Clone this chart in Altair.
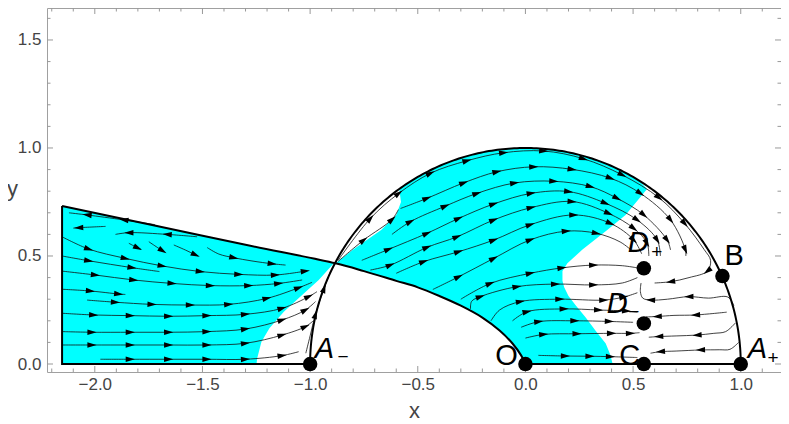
import math
import numpy as np
import pandas as pd
import altair as alt

FONT = "Liberation Sans"
CYAN = "#00FFFF"

# ---------------- axes / frame ----------------
XMIN, XMAX = -2.222, 1.187
YMIN, YMAX = -0.037, 1.648
W, H = 734, 364
XTICKS = [-2.0, -1.5, -1.0, -0.5, 0.0, 0.5, 1.0]
YTICKS = [0.0, 0.5, 1.0, 1.5]

# ---------------- cyan regions ----------------
# left region: x, lower y, upper y
R1_X = [-2.152, -1.249, -1.246, -1.226, -1.189, -1.122, -1.037, -0.960, -0.890]
R1_LO = [0.0, 0.0, 0.026, 0.103, 0.165, 0.242, 0.319, 0.389, 0.466]
R1_HI = [0.731, 0.541, 0.540, 0.536, 0.528, 0.514, 0.497, 0.481, 0.466]

# semicircle region: y, left x, right x
R2_Y = [0.0, 0.04, 0.095, 0.155, 0.215, 0.27, 0.315, 0.355, 0.385, 0.43, 0.466,
        0.53, 0.62, 0.69, 0.75, 0.81, 0.85, 0.88, 0.91, 0.94, 0.96, 0.975, 0.985,
        0.993, 0.998, 1.0]
R2_XL = [0.0, -0.02, -0.06, -0.12, -0.2, -0.3, -0.4, -0.5, -0.6, -0.75, -0.882,
         -0.80, -0.67, -0.60, -0.578, -0.586, -0.527, -0.475, -0.415, -0.341,
         -0.28, -0.222, -0.173, -0.118, -0.063, 0.0]
R2_XR = [0.405, 0.395, 0.373, 0.325, 0.28, 0.235, 0.20, 0.18, 0.172, 0.172, 0.195,
         0.265, 0.38, 0.465, 0.515, 0.565, 0.527, 0.475, 0.415, 0.341,
         0.28, 0.222, 0.173, 0.118, 0.063, 0.0]

# ---------------- black boundaries ----------------
EDGE_LEFT = [(-1.0, 0.0), (-2.152, 0.0), (-2.152, 0.731)]
EDGE_RIGHT = [(0.0, 0.0), (1.0, 0.0)]
SEPARATRIX = [(-2.152, 0.731), (-1.75, 0.647), (-1.3, 0.552), (-0.882, 0.466),
              (-0.75, 0.43), (-0.6, 0.385), (-0.5, 0.355), (-0.4, 0.315),
              (-0.3, 0.27), (-0.2, 0.215), (-0.12, 0.155), (-0.06, 0.095),
              (-0.02, 0.04), (0.0, 0.0)]

# ---------------- fixed points ----------------
PT_NAMES = ["A-", "O", "C", "A+", "B", "D+", "D-"]
PT_X = [-1.0, 0.0, 0.55, 1.0, 0.915, 0.55, 0.55]
PT_Y = [0.0, 0.0, 0.0, 0.0, 0.407, 0.443, 0.188]

# ---------------- streamlines (x, y, arrowhead flag) ----------------
T1 = [(-1.72, 0.645, 0), (-1.865, 0.667, 1), (-2.036, 0.69, 1), (-2.12, 0.70, 0)]
T2 = [(-1.95, 0.637, 0), (-2.075, 0.631, 1), (-2.10, 0.629, 0)]
T3 = [(-1.525, 0.589, 0), (-1.664, 0.600, 1), (-1.842, 0.608, 1), (-1.904, 0.600, 0)]
S1 = [(-1.842, 0.559, 0), (-1.80, 0.537, 1), (-1.786, 0.531, 0)]
S2 = [(-1.749, 0.566, 0), (-1.71, 0.540, 0), (-1.685, 0.524, 1), (-1.678, 0.520, 0)]
S3 = [(-1.633, 0.551, 0), (-1.58, 0.528, 0), (-1.532, 0.505, 1), (-1.52, 0.500, 0)]
S4 = [(-1.478, 0.539, 0), (-1.424, 0.509, 0), (-1.354, 0.492, 1), (-1.27, 0.477, 0),
      (-1.176, 0.464, 1), (-1.114, 0.458, 0)]
L1 = [(-2.152, 0.589, 0), (-2.028, 0.532, 1), (-1.858, 0.489, 1), (-1.687, 0.454, 1),
      (-1.510, 0.428, 1), (-1.331, 0.415, 1), (-1.161, 0.412, 1), (-1.022, 0.430, 1)]
L2 = [(-2.152, 0.500, 0), (-2.028, 0.478, 1), (-1.827, 0.446, 1), (-1.70, 0.428, 0)]
L3 = [(-2.152, 0.430, 0), (-1.997, 0.412, 1), (-1.819, 0.389, 1), (-1.641, 0.373, 1),
      (-1.463, 0.363, 1), (-1.285, 0.363, 1), (-1.146, 0.373, 1), (-1.037, 0.389, 0)]
L4 = [(-2.152, 0.346, 0), (-2.020, 0.338, 1), (-1.889, 0.324, 1), (-1.858, 0.322, 0)]
L5 = [(-2.036, 0.296, 0), (-1.904, 0.286, 1), (-1.734, 0.276, 1), (-1.556, 0.273, 1),
      (-1.378, 0.276, 1), (-1.200, 0.304, 1), (-1.053, 0.353, 1), (-0.991, 0.378, 0)]
L6 = [(-2.152, 0.235, 0), (-2.005, 0.227, 1), (-1.835, 0.224, 1), (-1.657, 0.221, 1),
      (-1.479, 0.224, 1), (-1.300, 0.230, 1), (-1.130, 0.258, 1), (-1.006, 0.312, 1),
      (-0.968, 0.335, 0)]
L7 = [(-2.152, 0.150, 0), (-2.013, 0.147, 1), (-1.835, 0.147, 1), (-1.657, 0.147, 1),
      (-1.479, 0.150, 1), (-1.300, 0.162, 1), (-1.130, 0.204, 1), (-1.022, 0.250, 1),
      (-0.975, 0.289, 0)]
L8 = [(-2.152, 0.088, 0), (-2.013, 0.088, 1), (-1.835, 0.088, 1), (-1.657, 0.088, 1),
      (-1.479, 0.088, 1), (-1.300, 0.096, 1), (-1.130, 0.134, 1), (-1.022, 0.173, 1),
      (-0.985, 0.20, 0)]
L9 = [(-1.974, 0.022, 0), (-1.835, 0.022, 1), (-1.657, 0.022, 1), (-1.479, 0.022, 1),
      (-1.300, 0.022, 1), (-1.130, 0.039, 1), (-1.053, 0.057, 0)]
W1 = [(-1.02, 0.05, 0), (-1.0, 0.13, 0), (-0.975, 0.23, 1), (-0.935, 0.35, 1), (-0.905, 0.43, 0)]

HUG = [(-0.87, 0.48, 0), (-0.72, 0.674, 1), (-0.588, 0.79, 1), (-0.441, 0.883, 1),
       (-0.271, 0.941, 1), (-0.101, 0.978, 1), (0.085, 0.986, 1), (0.27, 0.95, 1),
       (0.45, 0.875, 1), (0.62, 0.77, 1), (0.74, 0.65, 1), (0.83, 0.53, 0),
       (0.86, 0.48, 0), (0.845, 0.43, 1), (0.76, 0.40, 0), (0.674, 0.381, 1), (0.60, 0.375, 0)]
A2 = [(-0.87, 0.475, 0), (-0.751, 0.574, 1), (-0.619, 0.67, 1), (-0.59, 0.715, 0)]
P1 = [(-0.58, 0.72, 0), (-0.457, 0.767, 1), (-0.286, 0.839, 1), (-0.132, 0.89, 1),
      (0.039, 0.913, 1), (0.217, 0.901, 1), (0.395, 0.86, 1), (0.534, 0.79, 1),
      (0.674, 0.667, 1), (0.743, 0.528, 1), (0.745, 0.50, 0)]
P2 = [(-0.62, 0.60, 0), (-0.534, 0.659, 1), (-0.372, 0.731, 1), (-0.225, 0.79, 1),
      (-0.05, 0.838, 1), (0.132, 0.846, 1), (0.302, 0.821, 1), (0.426, 0.767, 1),
      (0.55, 0.69, 1), (0.658, 0.574, 1), (0.674, 0.528, 0)]
P3 = [(-0.76, 0.48, 0), (-0.635, 0.531, 1), (-0.457, 0.605, 1), (-0.31, 0.674, 1),
      (-0.147, 0.741, 1), (0.027, 0.79, 1), (0.201, 0.798, 1), (0.372, 0.744, 1),
      (0.519, 0.667, 1), (0.612, 0.574, 1), (0.627, 0.50, 0)]
P4 = [(-0.72, 0.435, 0), (-0.627, 0.458, 1), (-0.457, 0.54, 1), (-0.317, 0.589, 1),
      (-0.147, 0.667, 1), (0.027, 0.724, 1), (0.217, 0.752, 1), (0.387, 0.697, 1),
      (0.503, 0.628, 1), (0.565, 0.559, 1), (0.573, 0.50, 0)]
P5 = [(-0.6, 0.42, 0), (-0.472, 0.474, 1), (-0.31, 0.52, 1), (-0.147, 0.574, 1),
      (0.023, 0.645, 1), (0.225, 0.69, 1), (0.395, 0.651, 1), (0.503, 0.574, 1), (0.54, 0.51, 0)]
P6 = [(-0.43, 0.345, 0), (-0.31, 0.404, 1), (-0.147, 0.489, 1), (0.023, 0.575, 1),
      (0.19, 0.615, 1), (0.33, 0.605, 1), (0.44, 0.565, 0), (0.50, 0.52, 0)]
P7 = [(-0.30, 0.30, 0), (-0.163, 0.373, 1), (0.023, 0.42, 1), (0.17, 0.445, 1),
      (0.317, 0.458, 1), (0.45, 0.455, 0), (0.52, 0.445, 0)]
P8 = [(-0.255, 0.255, 0), (-0.25, 0.29, 0), (-0.209, 0.312, 1), (-0.039, 0.358, 1),
      (0.14, 0.37, 1), (0.317, 0.366, 1), (0.45, 0.375, 0), (0.52, 0.40, 0)]
P9 = [(-0.16, 0.20, 0), (-0.12, 0.25, 0), (-0.023, 0.289, 1), (0.16, 0.30, 1),
      (0.364, 0.296, 1), (0.457, 0.31, 1), (0.52, 0.33, 0)]
P10 = [(-0.06, 0.20, 0), (0.008, 0.242, 1), (0.18, 0.255, 1), (0.34, 0.25, 1),
       (0.47, 0.245, 1), (0.52, 0.24, 0)]
P11 = [(-0.02, 0.17, 0), (0.062, 0.196, 1), (0.23, 0.20, 1), (0.39, 0.197, 1), (0.50, 0.193, 0)]
P12 = [(0.0, 0.12, 0), (0.085, 0.137, 1), (0.24, 0.14, 1), (0.40, 0.142, 1),
       (0.488, 0.142, 1), (0.53, 0.145, 0)]
P13 = [(0.06, 0.04, 0), (0.186, 0.037, 1), (0.30, 0.036, 1), (0.395, 0.034, 1), (0.52, 0.03, 0)]
Q2 = [(0.968, 0.27, 0), (0.94, 0.31, 0), (0.85, 0.305, 0), (0.759, 0.312, 1), (0.66, 0.30, 0),
      (0.581, 0.296, 1), (0.545, 0.305, 0), (0.534, 0.335, 0), (0.537, 0.375, 0)]
Q3 = [(0.935, 0.24, 0), (0.79, 0.227, 1), (0.69, 0.225, 0), (0.612, 0.22, 1), (0.56, 0.218, 0)]
Q4 = [(0.975, 0.19, 0), (0.93, 0.15, 0), (0.875, 0.142, 0), (0.797, 0.134, 1), (0.70, 0.13, 0),
      (0.619, 0.127, 1), (0.573, 0.124, 0)]
Q5 = [(0.99, 0.10, 0), (0.95, 0.068, 0), (0.90, 0.066, 0), (0.813, 0.065, 1), (0.70, 0.06, 0),
      (0.627, 0.057, 1), (0.581, 0.05, 0)]

STREAMS = [T1, T2, T3, S1, S2, S3, S4, L1, L2, L3, L4, L5, L6, L7, L8, L9, W1,
           HUG, A2, P1, P2, P3, P4, P5, P6, P7, P8, P9, P10, P11, P12, P13, Q2, Q3, Q4, Q5]

# ---------------- build tables ----------------
sx = W / (XMAX - XMIN)
sy = H / (YMAX - YMIN)

line_rows, arrow_rows = [], []
for sid, pts in enumerate(STREAMS):
    n = len(pts)
    for k, (x, y, a) in enumerate(pts):
        line_rows.append(dict(sid=sid, k=k, x=x, y=y))
        if a:
            if 0 < k < n - 1:
                p0, p1 = pts[k - 1], pts[k + 1]
            elif k == n - 1:
                p0, p1 = pts[k - 1], pts[k]
            else:
                p0, p1 = pts[k], pts[k + 1]
            ang = math.degrees(math.atan2(-(p1[1] - p0[1]) * sy, (p1[0] - p0[0]) * sx)) % 360
            arrow_rows.append(dict(x=x, y=y, angle=ang))
lines_df = pd.DataFrame(line_rows)
arrows_df = pd.DataFrame(arrow_rows)

th = np.linspace(0, np.pi, 241)
circle_df = pd.DataFrame(dict(sid=0, k=np.arange(th.size), x=np.cos(th), y=np.sin(th)))
edge_rows = []
for sid, pts in enumerate([EDGE_LEFT, EDGE_RIGHT], start=1):
    for k, (x, y) in enumerate(pts):
        edge_rows.append(dict(sid=sid, k=k, x=x, y=y))
edges_df = pd.concat([circle_df, pd.DataFrame(edge_rows)], ignore_index=True)
sep_df = pd.DataFrame([dict(k=k, x=x, y=y) for k, (x, y) in enumerate(SEPARATRIX)])

reg1 = pd.DataFrame(dict(x=R1_X, lo=R1_LO, hi=R1_HI))
reg2 = pd.DataFrame(dict(y=R2_Y, xl=R2_XL, xr=R2_XR))
pts_df = pd.DataFrame(dict(name=PT_NAMES, x=PT_X, y=PT_Y))

# ticks (frame ticks pointing inward)
xmaj = XTICKS
xmin_t = [round(i * 0.1, 2) for i in range(-22, 12) if i % 5 != 0]
ymaj = YTICKS
ymin_t = [round(i * 0.1, 2) for i in range(0, 17) if i % 5 != 0]
MAJ, MIN = 6.0, 3.5
tick_rows = []
for v, L in [(v, MAJ) for v in xmaj] + [(v, MIN) for v in xmin_t]:
    tick_rows.append(dict(x=v, x2=v, y=YMIN, y2=YMIN + L / sy))
    tick_rows.append(dict(x=v, x2=v, y=YMAX, y2=YMAX - L / sy))
for v, L in [(v, MAJ) for v in ymaj] + [(v, MIN) for v in ymin_t]:
    tick_rows.append(dict(x=XMIN, x2=XMIN + L / sx, y=v, y2=v))
    tick_rows.append(dict(x=XMAX, x2=XMAX - L / sx, y=v, y2=v))
ticks_df = pd.DataFrame(tick_rows)

# labels
LAB_MAIN_TEXT = ["A", "A", "D", "D"]
LAB_MAIN_X = [-0.978, 1.033, 0.475, 0.378]
LAB_MAIN_Y = [0.028, 0.028, 0.519, 0.236]
LAB_UP_TEXT = ["O", "C", "B"]
LAB_UP_X = [-0.14, 0.436, 0.925]
LAB_UP_Y = [-0.005, -0.005, 0.458]
LAB_SUB_TEXT = ["\u2212", "+", "+", "\u2212"]
LAB_SUB_X = [-0.873, 1.124, 0.584, 0.478]
LAB_SUB_Y = [0.003, 0.0, 0.493, 0.213]

xscale = alt.Scale(domain=[XMIN, XMAX], nice=False, zero=False)
yscale = alt.Scale(domain=[YMIN, YMAX], nice=False, zero=False)
xaxis = alt.Axis(values=XTICKS, format=".1f", ticks=False, domain=False, grid=False,
                 labelFont=FONT, labelFontSize=17, labelColor="#444", labelPadding=4,
                 title="x", titleFont=FONT, titleFontSize=22, titleFontWeight="normal",
                 titleColor="#444", titleY=45, titleBaseline="alphabetic")
yaxis = alt.Axis(values=YTICKS, format=".1f", ticks=False, domain=False, grid=False,
                 labelFont=FONT, labelFontSize=17, labelColor="#444", labelPadding=6,
                 title="y", titleFont=FONT, titleFontSize=22, titleFontWeight="normal",
                 titleColor="#444", titleAngle=0, titleX=-35, titleY=180,
                 titleBaseline="middle", titleAlign="center")


def X(f):
    return alt.X(f, type="quantitative", scale=xscale, axis=xaxis)


def Y(f):
    return alt.Y(f, type="quantitative", scale=yscale, axis=yaxis)


area1 = alt.Chart(reg1).mark_area(color=CYAN, opacity=1).encode(
    x=X("x"), y=Y("lo"), y2="hi")
area2 = alt.Chart(reg2).mark_area(color=CYAN, opacity=1, orient="horizontal").encode(
    y=Y("y"), x=X("xl"), x2="xr")

tick_layer = alt.Chart(ticks_df).mark_rule(color="#999", strokeWidth=1).encode(
    x=X("x"), x2="x2", y=Y("y"), y2="y2")

stream_layer = alt.Chart(lines_df).mark_line(
    color="#111", strokeWidth=0.8, interpolate="catmull-rom").encode(
    x=X("x"), y=Y("y"), detail="sid:N", order="k:Q")
arrow_layer = alt.Chart(arrows_df).mark_point(
    shape="M-1,-0.6L1,0L-1,0.6Z", filled=True, size=85, color="black",
    opacity=1, strokeWidth=0).encode(
    x=X("x"), y=Y("y"), angle=alt.Angle("angle:Q", scale=None))

edge_layer = alt.Chart(edges_df).mark_line(color="black", strokeWidth=2).encode(
    x=X("x"), y=Y("y"), detail="sid:N", order="k:Q")
sep_layer = alt.Chart(sep_df).mark_line(
    color="black", strokeWidth=2, interpolate="catmull-rom").encode(
    x=X("x"), y=Y("y"), order="k:Q")

dots = alt.Chart(pts_df).mark_circle(size=210, color="black", opacity=1).encode(
    x=X("x"), y=Y("y"))

lab_main = alt.Chart(pd.DataFrame(dict(t=LAB_MAIN_TEXT, x=LAB_MAIN_X, y=LAB_MAIN_Y))).mark_text(
    font=FONT, fontSize=29, fontStyle="italic", align="left", baseline="alphabetic",
    color="black").encode(x=X("x"), y=Y("y"), text="t:N")
lab_up = alt.Chart(pd.DataFrame(dict(t=LAB_UP_TEXT, x=LAB_UP_X, y=LAB_UP_Y))).mark_text(
    font=FONT, fontSize=29, align="left", baseline="alphabetic",
    color="black").encode(x=X("x"), y=Y("y"), text="t:N")
lab_sub = alt.Chart(pd.DataFrame(dict(t=LAB_SUB_TEXT, x=LAB_SUB_X, y=LAB_SUB_Y))).mark_text(
    font=FONT, fontSize=19, align="left", baseline="alphabetic",
    color="black").encode(x=X("x"), y=Y("y"), text="t:N")

chart = alt.layer(
    area1, area2, tick_layer, stream_layer, arrow_layer, edge_layer, sep_layer,
    dots, lab_main, lab_up, lab_sub
).properties(
    width=W, height=H,
    padding={"left": 39, "top": 0, "right": 0, "bottom": 51},
    autosize=alt.AutoSizeParams(type="none"),
).configure_view(stroke="#a0a0a0", strokeWidth=1)

chart.save("out.html", embed_options={"renderer": "svg", "actions": False})
